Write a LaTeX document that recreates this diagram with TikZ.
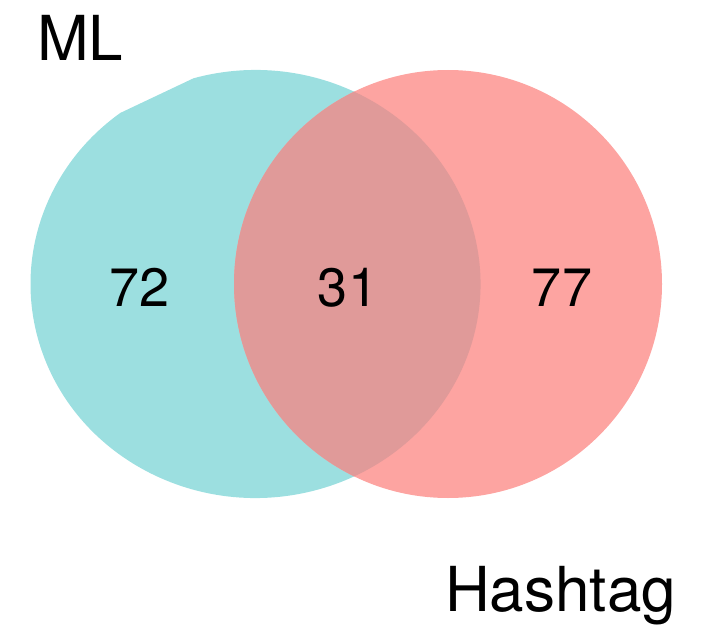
\documentclass[tikz,border=0pt]{standalone}
\usepackage{fontspec}
\setmainfont{TeX Gyre Heros}
\definecolor{mlcol}{RGB}{156,223,224}
\definecolor{htcol}{RGB}{253,164,161}
\definecolor{ovcol}{RGB}{224,154,153}
\begin{document}
\begin{tikzpicture}[x=1pt,y=1pt,
  lbl/.style={inner sep=0pt, anchor=base west, font=\fontsize{62}{62}\selectfont},
  num/.style={inner sep=0pt, anchor=base, font=\fontsize{54}{54}\selectfont}]
\useasboundingbox (0,0) rectangle (703,625);
% left set (ML)
\fill[mlcol] (255.5,341) ++(106:225 and 214)
  arc[start angle=106, end angle=-233.1, x radius=225, y radius=214] -- cycle;
% right set (Hashtag)
\fill[htcol] (448,341) circle[radius=214];
% overlap
\begin{scope}
  \clip (448,341) circle[radius=214];
  \fill[ovcol] (255.5,341) ++(106:225 and 214)
    arc[start angle=106, end angle=-233.1, x radius=225, y radius=214] -- cycle;
\end{scope}
\node[num] (a) at (139.5,319) {72};
\node[num] (b) at (348,319) {31};
\node[num] (c) at (562,319) {77};
\node[lbl] (ml) at (37,564) {ML};
\node[lbl] (ht) at (445,13.5) {Hashtag};
\end{tikzpicture}
\end{document}
